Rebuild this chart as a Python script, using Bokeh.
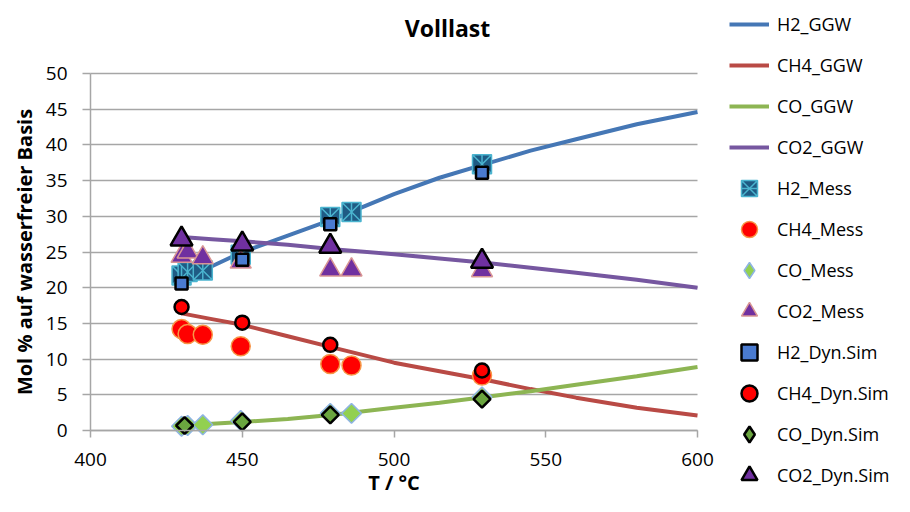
import numpy as np
from bokeh.plotting import figure
from bokeh.models import Legend, LegendItem, FixedTicker, Range1d, Label
from bokeh.embed import file_html
from bokeh.resources import INLINE

# ---------------- data ----------------
X_TICKS = [400, 450, 500, 550, 600]
Y_TICKS = [0, 5, 10, 15, 20, 25, 30, 35, 40, 45, 50]

T_GGW = [430, 440, 450, 465, 480, 500, 515, 530, 545, 560, 580, 600]
H2_GGW = [21.3, 23.0, 25.0, 27.3, 29.6, 33.1, 35.4, 37.3, 39.2, 40.8, 42.9, 44.6]
CH4_GGW = [16.4, 15.6, 14.8, 13.2, 11.6, 9.5, 8.3, 7.1, 5.8, 4.6, 3.2, 2.1]
CO_GGW = [0.7, 0.95, 1.2, 1.6, 2.2, 3.2, 3.9, 4.7, 5.5, 6.4, 7.6, 8.9]
CO2_GGW = [27.1, 26.8, 26.5, 26.0, 25.4, 24.7, 24.1, 23.5, 22.8, 22.1, 21.1, 20.0]

T_MESS = [430, 432, 437, 449.5, 479, 486, 529]
H2_MESS = [21.7, 22.2, 22.4, 24.6, 29.9, 30.6, 37.3]
CH4_MESS = [14.2, 13.5, 13.4, 11.8, 9.3, 9.1, 7.7]
CO_MESS = [0.6, 0.7, 0.8, 1.4, 2.4, 2.4, 4.7]
CO2_MESS = [24.4, 25.0, 24.2, 23.6, 22.5, 22.5, 22.4]

T_DYN = [430, 450, 479, 529]
T_DYN_CO = [431, 450, 479, 529]
H2_DYN = [20.6, 23.9, 28.9, 36.1]
CH4_DYN = [17.3, 15.1, 12.0, 8.4]
CO_DYN = [0.7, 1.2, 2.2, 4.4]
CO2_DYN = [26.8, 26.1, 25.8, 23.7]

X_MIN, X_MAX = 400, 600
Y_MIN, Y_MAX = 0, 50

# ---------------- layout (pixels) ----------------
W, H = 894, 496
PX_LEFT, PX_RIGHT, PX_TOP, PX_BOTTOM = 90, 697, 73, 430   # plot area
SX = (PX_RIGHT - PX_LEFT) / (X_MAX - X_MIN)
SY = (PX_BOTTOM - PX_TOP) / (Y_MAX - Y_MIN)
x_start = X_MIN - PX_LEFT / SX
x_end = X_MAX + (W - PX_RIGHT) / SX
y_start = Y_MIN - (H - PX_BOTTOM) / SY
y_end = Y_MAX + PX_TOP / SY

FONT = "Open Sans"
GRID = "#A6A6A6"
C_H2, C_CH4, C_CO, C_CO2 = "#4577B5", "#B94A45", "#8DB553", "#7657A0"
LW = 4

p = figure(width=W, height=H, output_backend="svg", toolbar_location=None,
           x_range=Range1d(x_start, x_end), y_range=Range1d(y_start, y_end),
           min_border_left=0, min_border_right=0, min_border_top=0, min_border_bottom=0,
           outline_line_color=None)
p.title.visible = False

# axes drawn at the data origin so the canvas can hold the tall legend
p.xaxis.fixed_location = Y_MIN
p.yaxis.fixed_location = X_MIN
p.xaxis.bounds = (X_MIN, X_MAX)
p.yaxis.bounds = (Y_MIN, Y_MAX)
for ax in (p.xaxis[0], p.yaxis[0]):
    ax.axis_line_color = GRID
    ax.axis_line_width = 1.5
    ax.major_tick_line_color = GRID
    ax.major_tick_line_width = 1.5
    ax.major_tick_in = 0
    ax.minor_tick_line_color = None
    ax.major_label_text_font = FONT
    ax.major_label_text_font_size = "19px"
    ax.major_label_text_color = "black"
    ax.axis_label_text_font = FONT
    ax.axis_label_text_font_size = "20px"
    ax.axis_label_text_font_style = "bold"
    ax.axis_label_text_color = "black"

p.xaxis.ticker = FixedTicker(ticks=X_TICKS)
p.yaxis.ticker = FixedTicker(ticks=Y_TICKS)
p.xaxis.major_tick_out = 7
p.yaxis.major_tick_out = 8
p.xaxis.major_label_standoff = 15
p.yaxis.major_label_standoff = 15
p.xaxis.axis_label = "T / °C"
p.yaxis.axis_label = "Mol % auf wasserfreier Basis"
p.xaxis.axis_label_standoff = 0
p.yaxis.axis_label_standoff = 5

# horizontal grid limited to the plot area
p.xgrid.grid_line_color = None
if "cross_bounds" in p.ygrid[0].properties():
    p.ygrid.ticker = FixedTicker(ticks=Y_TICKS)
    p.ygrid.cross_bounds = (X_MIN, X_MAX)
    p.ygrid.grid_line_color = GRID
    p.ygrid.grid_line_width = 1.5
else:
    p.ygrid.grid_line_color = None
    p.segment(x0=[X_MIN] * len(Y_TICKS), x1=[X_MAX] * len(Y_TICKS),
              y0=Y_TICKS, y1=Y_TICKS, line_color=GRID, line_width=1.5, level="underlay")

# title
p.add_layout(Label(x=x_start + (W / 2) / SX, y=y_end - 27 / SY, text="Volllast",
                   text_align="center", text_baseline="middle",
                   text_font=FONT, text_font_size="23px", text_font_style="bold",
                   text_color="black"))

# equilibrium lines
r_h2 = p.line(T_GGW, H2_GGW, line_color=C_H2, line_width=LW)
r_ch4 = p.line(T_GGW, CH4_GGW, line_color=C_CH4, line_width=LW)
r_co = p.line(T_GGW, CO_GGW, line_color=C_CO, line_width=LW)
r_co2 = p.line(T_GGW, CO2_GGW, line_color=C_CO2, line_width=LW)

# measurements
r_h2m = p.scatter(T_MESS, H2_MESS, marker="square_x", size=19,
                  fill_color="#1F5B84", line_color="#4BB4CF", line_width=1.5)
r_h2m2 = p.scatter(T_MESS, H2_MESS, marker="dash", size=19, angle=np.pi / 2,
                   line_color="#4BB4CF", line_width=1.5)
r_ch4m = p.scatter(T_MESS, CH4_MESS, marker="circle", size=19,
                   fill_color="#FF0000", line_color="#F79646", line_width=1.5)
# diamond key for the legend (tiny, hidden under the rotated squares)
r_comk = p.scatter(T_MESS, CO_MESS, marker="diamond", size=0.1,
                   fill_color="#92D050", line_color="#8EB4E3", line_width=1.5)
r_com = p.scatter(T_MESS, CO_MESS, marker="square", size=14, angle=np.pi / 4,
                  fill_color="#92D050", line_color="#8EB4E3", line_width=1.5)
r_co2m = p.scatter(T_MESS, CO2_MESS, marker="triangle", size=21,
                   fill_color="#7030A0", line_color="#D99694", line_width=1.5)

# dynamic simulation
r_h2d = p.scatter(T_DYN, H2_DYN, marker="square", size=12,
                  fill_color="#4A7BD0", line_color="black", line_width=2.5)
r_ch4d = p.scatter(T_DYN, CH4_DYN, marker="circle", size=14,
                   fill_color="#FF0000", line_color="black", line_width=2.5)
r_codk = p.scatter(T_DYN_CO, CO_DYN, marker="diamond", size=0.1,
                   fill_color="#6AA53F", line_color="black", line_width=2.5)
r_cod = p.scatter(T_DYN_CO, CO_DYN, marker="square", size=12, angle=np.pi / 4,
                  fill_color="#6AA53F", line_color="black", line_width=2.5)
r_co2d = p.scatter(T_DYN, CO2_DYN, marker="triangle", size=22,
                   fill_color="#7030A0", line_color="black", line_width=2.5)

items = [
    LegendItem(label="H2_GGW", renderers=[r_h2]),
    LegendItem(label="CH4_GGW", renderers=[r_ch4]),
    LegendItem(label="CO_GGW", renderers=[r_co]),
    LegendItem(label="CO2_GGW", renderers=[r_co2]),
    LegendItem(label="H2_Mess", renderers=[r_h2m, r_h2m2]),
    LegendItem(label="CH4_Mess", renderers=[r_ch4m]),
    LegendItem(label="CO_Mess", renderers=[r_comk]),
    LegendItem(label="CO2_Mess", renderers=[r_co2m]),
    LegendItem(label="H2_Dyn.Sim", renderers=[r_h2d]),
    LegendItem(label="CH4_Dyn.Sim", renderers=[r_ch4d]),
    LegendItem(label="CO_Dyn.Sim", renderers=[r_codk]),
    LegendItem(label="CO2_Dyn.Sim", renderers=[r_co2d]),
]
legend = Legend(items=items, location=(729, 1), orientation="vertical", ncols=1,
                glyph_width=40, glyph_height=40, label_height=40, spacing=1,
                padding=0, margin=0, label_standoff=8,
                label_text_font=FONT, label_text_font_size="18px",
                label_text_color="black",
                border_line_color=None, background_fill_alpha=0)
p.add_layout(legend)

open("out.html", "w").write(file_html(p, INLINE))
